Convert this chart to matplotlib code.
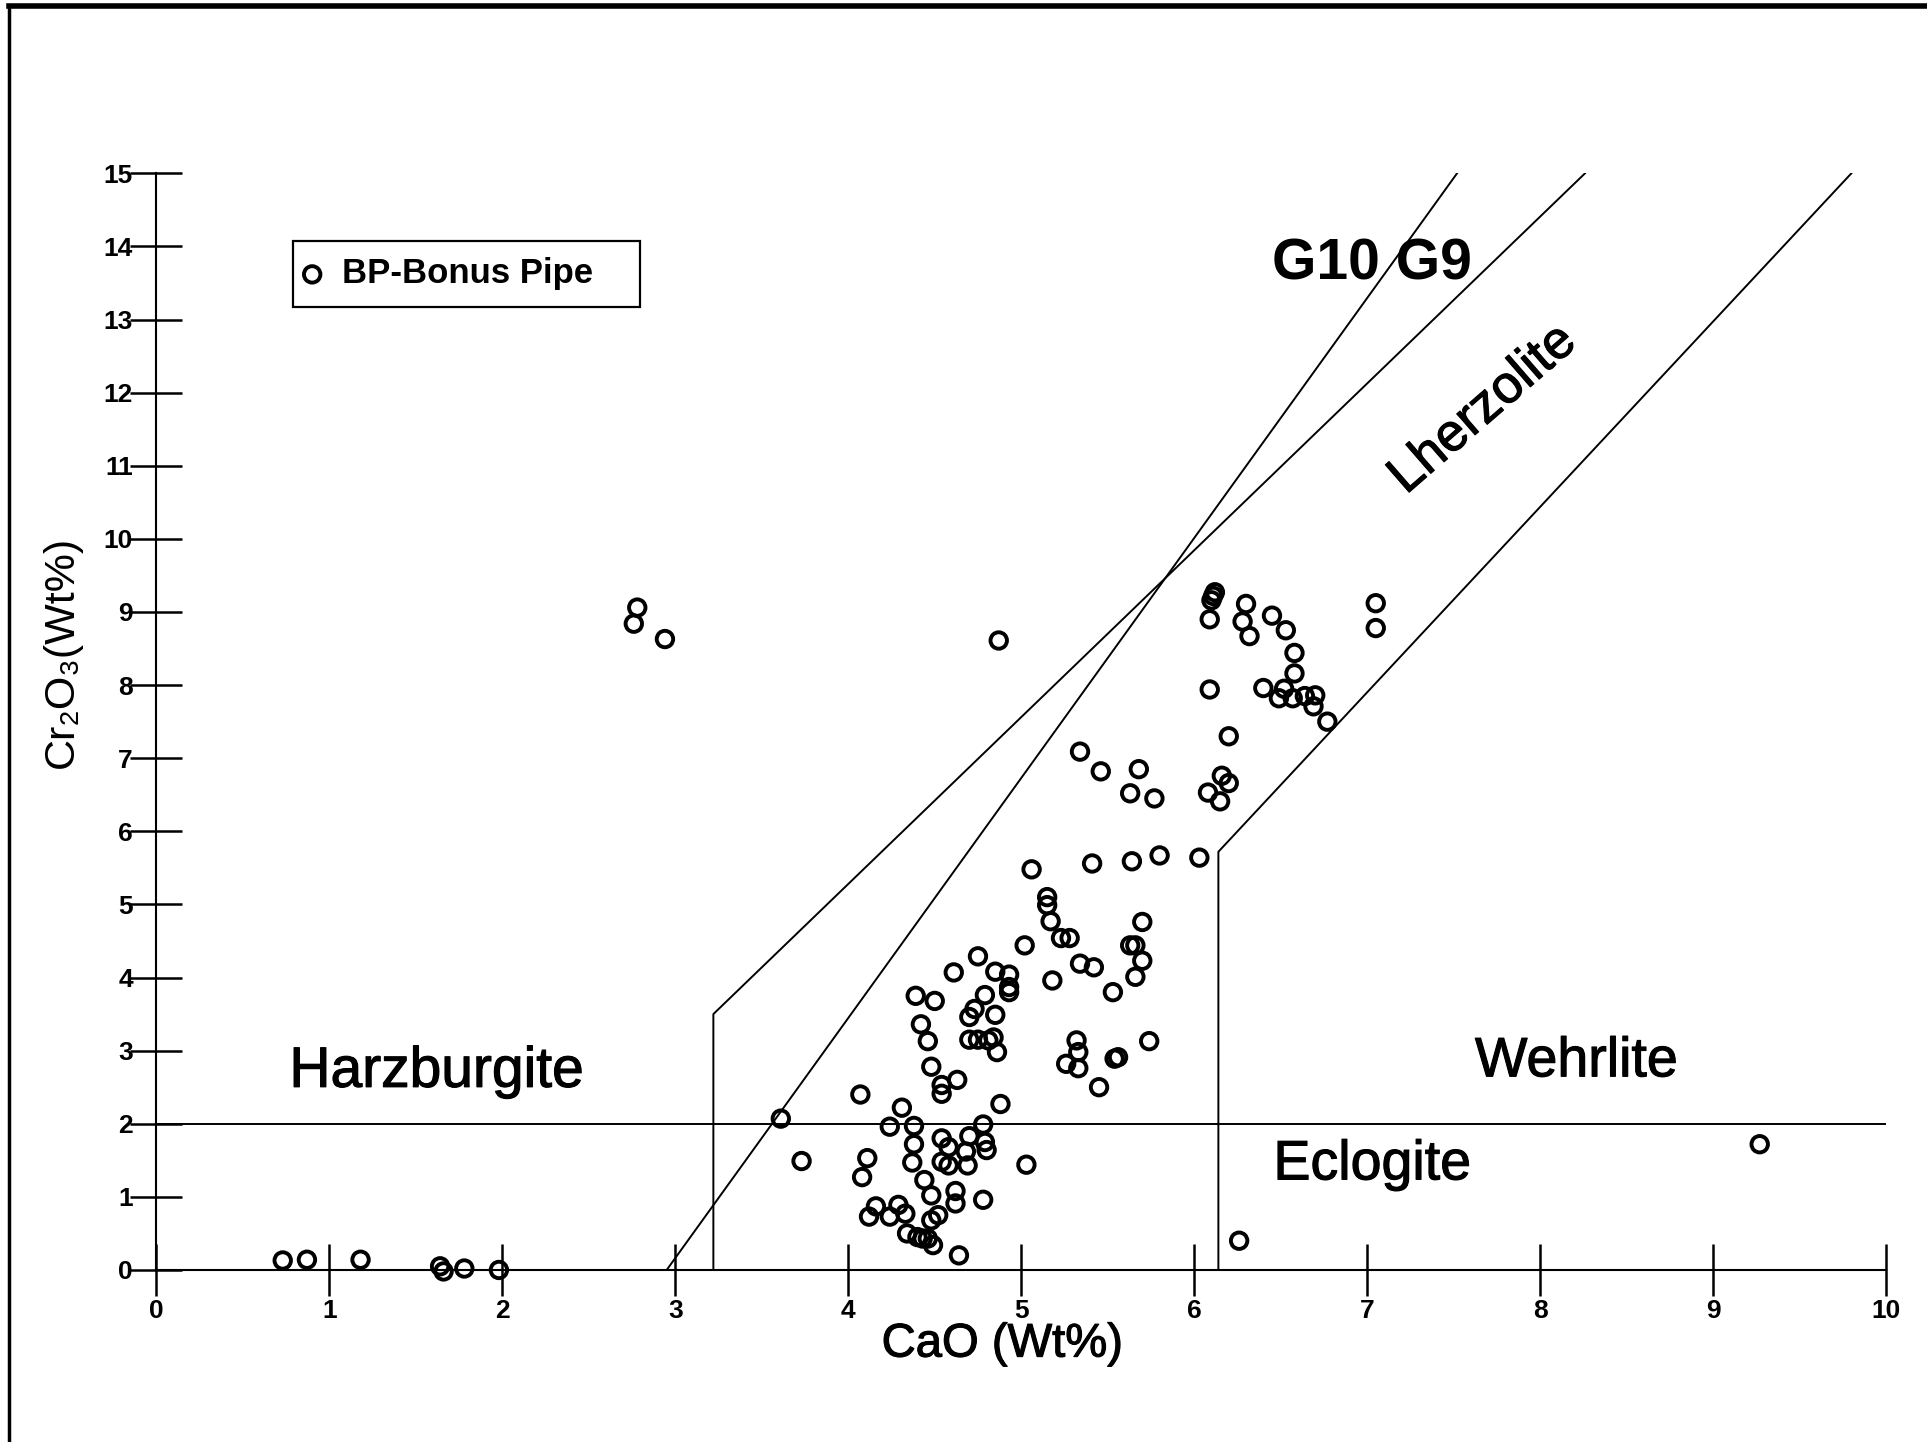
import matplotlib
matplotlib.use("Agg")
import matplotlib.pyplot as plt
import matplotlib.patheffects as pe
from matplotlib.lines import Line2D
from matplotlib.patches import Rectangle

plt.rcParams['font.family'] = ['Liberation Sans', 'DejaVu Sans']

# garnet analyses, BP-Bonus Pipe
cao = [0.73, 0.87, 1.18, 1.64, 1.66, 1.78, 1.98,
       2.78, 2.76, 2.94, 4.87, 3.61, 3.73, 6.26, 9.27,
       6.12, 6.11, 6.10, 6.09, 6.30, 6.28, 6.32, 6.45, 6.53, 6.58, 6.58,
       6.40, 6.49, 6.52, 6.57, 6.64, 6.70, 6.69, 6.77, 7.05, 7.05,
       6.09, 6.20, 6.16, 6.20, 6.08, 6.15, 5.77,
       5.34, 5.46, 5.68, 5.63, 6.03, 5.80, 5.64, 5.70, 5.63, 5.66, 5.70,
       5.66, 5.53, 5.54, 5.56, 5.74,
       5.06, 5.41, 5.15, 5.15, 5.17, 5.23, 5.28, 5.02, 5.34, 5.42, 5.18,
       4.75, 4.61, 4.85, 4.93, 4.93, 4.93, 4.79, 4.39, 4.50, 4.73, 4.70,
       4.85, 4.42, 4.46, 4.70, 4.75, 4.81, 4.84, 4.86, 5.32, 5.33, 5.33,
       5.26, 5.45, 4.48, 4.63, 4.54, 4.54, 4.07, 4.31, 4.88, 4.24, 4.38,
       4.78, 4.54, 4.58, 4.38, 4.70, 4.79, 4.80, 4.68, 4.54, 4.58, 4.69,
       4.37, 4.11, 4.08, 5.03, 4.44, 4.48, 4.62, 4.62, 4.78, 4.16, 4.12,
       4.29, 4.24, 4.33, 4.48, 4.52, 4.34, 4.40, 4.43, 4.46, 4.49, 4.64]
cr2o3 = [0.13, 0.14, 0.14, 0.05, -0.02, 0.02, 0.00,
         9.06, 8.84, 8.63, 8.61, 2.07, 1.49, 0.40, 1.72,
         9.27, 9.22, 9.16, 8.90, 9.11, 8.87, 8.67, 8.95, 8.75, 8.44, 8.16,
         7.96, 7.82, 7.95, 7.82, 7.85, 7.86, 7.71, 7.50, 9.12, 8.78,
         7.94, 7.30, 6.76, 6.66, 6.53, 6.41, 6.45,
         7.09, 6.82, 6.85, 6.52, 5.64, 5.67, 5.59, 4.76, 4.44, 4.44, 4.23,
         4.01, 3.80, 2.89, 2.91, 3.13,
         5.48, 5.56, 5.10, 4.99, 4.77, 4.54, 4.54, 4.44, 4.19, 4.14, 3.96,
         4.29, 4.07, 4.08, 4.04, 3.87, 3.80, 3.76, 3.75, 3.68, 3.57, 3.46,
         3.49, 3.36, 3.13, 3.15, 3.15, 3.14, 3.18, 2.98, 3.14, 2.98, 2.76,
         2.82, 2.50, 2.78, 2.60, 2.53, 2.41, 2.40, 2.22, 2.27, 1.96, 1.97,
         1.99, 1.80, 1.68, 1.72, 1.83, 1.75, 1.64, 1.62, 1.48, 1.43, 1.43,
         1.47, 1.53, 1.27, 1.44, 1.23, 1.02, 1.08, 0.91, 0.96, 0.87, 0.73,
         0.89, 0.73, 0.77, 0.68, 0.75, 0.50, 0.45, 0.43, 0.43, 0.34, 0.20]

# field boundaries (CaO, Cr2O3)
harz_x, harz_y = [0, 10], [2, 2]
g10_x, g10_y = [2.95, 7.52], [0, 15]
lherz_x, lherz_y = [3.22, 3.22, 8.26], [0, 3.5, 15]
wehr_x, wehr_y = [6.14, 6.14, 9.80], [0, 5.72, 15]

xticks = list(range(0, 11))
yticks = list(range(0, 16))

heavy = [pe.withStroke(linewidth=0.8, foreground='black')]

fig = plt.figure(figsize=(19.27, 14.42), dpi=100)
ax = fig.add_axes([0.0812, 0.1193, 0.8975, 0.7605])
ax.set_xlim(0, 10)
ax.set_ylim(0, 15)

lw = 1.4
ax.plot(harz_x, harz_y, color='black', lw=lw)
ax.plot(g10_x, g10_y, color='black', lw=lw)
ax.plot(lherz_x, lherz_y, color='black', lw=lw)
ax.plot(wehr_x, wehr_y, color='black', lw=lw)

ax.scatter(cao, cr2o3, s=140, facecolors='none', edgecolors='black',
           linewidths=2.8, clip_on=False, zorder=3, label='BP-Bonus Pipe')

for s in ['top', 'right']:
    ax.spines[s].set_visible(False)
ax.spines['left'].set_linewidth(1.5)
ax.spines['bottom'].set_linewidth(1.5)
ax.set_xticks(xticks)
ax.set_yticks(yticks)
ax.tick_params(axis='both', direction='inout', length=38, width=1.8,
               labelsize=19)
ax.tick_params(axis='y', pad=-2)
ax.tick_params(axis='x', pad=2)
for lab in ax.get_xticklabels() + ax.get_yticklabels():
    lab.set_fontweight('bold')

ax.set_xlabel('CaO (Wt%)', fontsize=34, path_effects=heavy)
ax.xaxis.set_label_coords(0.489, -0.048)
ax.set_ylabel('Cr₂O₃(Wt%)', fontsize=31)
ax.yaxis.set_label_coords(-0.043, 0.564)

ax.text(7.03, 13.75, 'G10 G9', fontsize=41, fontweight='bold',
        ha='center', va='center')
ax.text(7.67, 11.77, 'Lherzolite', fontsize=38, ha='center', va='center',
        rotation=41, path_effects=heavy)
ax.text(1.62, 2.71, 'Harzburgite', fontsize=41, ha='center', va='center',
        path_effects=heavy)
ax.text(8.21, 2.84, 'Wehrlite', fontsize=40, ha='center', va='center',
        path_effects=heavy)
ax.text(7.03, 1.43, 'Eclogite', fontsize=40, ha='center', va='center',
        path_effects=heavy)

ax.legend(loc='center left', bbox_to_anchor=(0.1575, 1 - 274 / 1442),
          bbox_transform=fig.transFigure, frameon=False,
          handletextpad=0.6, borderpad=0, handlelength=0.5,
          borderaxespad=0, prop={'size': 25, 'weight': 'bold'})
fig.patches.append(Rectangle((293 / 1927, 1 - 307 / 1442), 347 / 1927,
                             66 / 1442, transform=fig.transFigure,
                             fill=False, edgecolor='black', lw=1.6))

# page frame from the scan
fig.add_artist(Line2D([0.0045, 0.0045], [0.0, 0.996], color='black', lw=2.5))
fig.add_artist(Line2D([0.0045, 1.0], [0.996, 0.996], color='black', lw=4))

fig.savefig('out.png', dpi=100, facecolor='white')
